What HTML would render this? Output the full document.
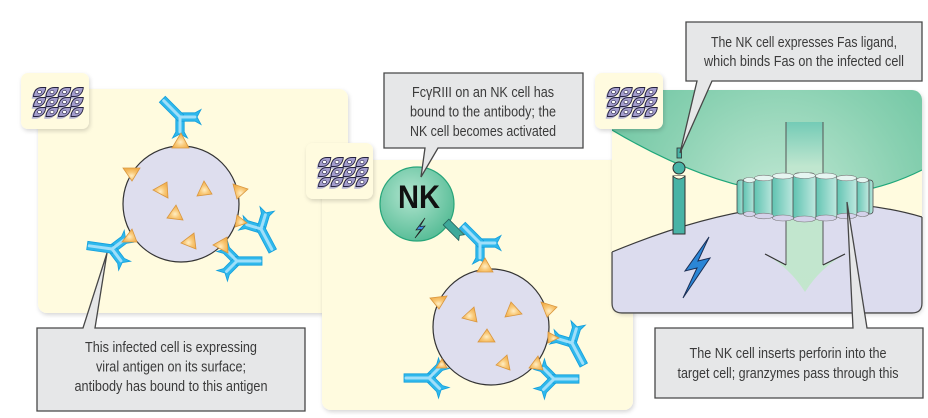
<!DOCTYPE html>
<html><head><meta charset="utf-8"><style>
html,body{margin:0;padding:0;background:#fff;}
svg{display:block;}
text{font-family:"Liberation Sans Narrow","Liberation Sans",sans-serif;}
</style></head><body>
<svg width="928" height="418" viewBox="0 0 928 418" xmlns="http://www.w3.org/2000/svg">
<defs>
 <filter id="sh" x="-5%" y="-5%" width="112%" height="115%"><feDropShadow dx="1" dy="2" stdDeviation="2" flood-color="#000" flood-opacity="0.16"/></filter>
 <radialGradient id="tri" cx="0.5" cy="0.6" r="0.55"><stop offset="0" stop-color="#ffeec4"/><stop offset="0.5" stop-color="#f9c978"/><stop offset="1" stop-color="#f2b150"/></radialGradient>
 <radialGradient id="nk" cx="0.42" cy="0.38" r="0.65"><stop offset="0" stop-color="#b2e5cf"/><stop offset="1" stop-color="#56bc96"/></radialGradient>
 <radialGradient id="grn" cx="780" cy="205" r="230" gradientUnits="userSpaceOnUse"><stop offset="0" stop-color="#c2e8d4"/><stop offset="0.55" stop-color="#8ad1b2"/><stop offset="1" stop-color="#62c09b"/></radialGradient>
 <linearGradient id="seg" x1="0" y1="0" x2="1" y2="0"><stop offset="0" stop-color="#5fc3b1"/><stop offset="1" stop-color="#bfe8df"/></linearGradient>
 <linearGradient id="shaft" x1="0" y1="122" x2="0" y2="300" gradientUnits="userSpaceOnUse"><stop offset="0" stop-color="#74cbb6"/><stop offset="0.25" stop-color="#c0e6cf"/><stop offset="1" stop-color="#c3e6cd"/></linearGradient>
 <g id="ab">
  <polygon transform="rotate(45)" points="-2,-4.2 15,-4.2 21,-7.5 17,0 21,7.5 15,4.2 -2,4.2" fill="#2fb8ec" stroke="#139fdc" stroke-width="0.8"/>
  <polygon transform="rotate(-45)" points="-2,-4.2 15,-4.2 21,-7.5 17,0 21,7.5 15,4.2 -2,4.2" fill="#2fb8ec" stroke="#139fdc" stroke-width="0.8"/>
  <rect x="-25" y="-4.2" width="26" height="8.4" fill="#2fb8ec" stroke="#139fdc" stroke-width="0.8"/>
  <line x1="-23" y1="0" x2="0" y2="0" stroke="#9fdffa" stroke-width="3" stroke-linecap="round"/>
  <line x1="0" y1="0" x2="10.5" y2="10.5" stroke="#9fdffa" stroke-width="3" stroke-linecap="round"/>
  <line x1="0" y1="0" x2="10.5" y2="-10.5" stroke="#9fdffa" stroke-width="3" stroke-linecap="round"/>
 </g>
 <g id="leaf">
  <path d="M0.5,9.5 C1,3 4,0.5 9,0.5 L12.8,0.5 C12.3,6 9,9.5 4,9.5 Z" fill="#a39dcd" stroke="#24213e" stroke-width="0.9"/>
  <ellipse cx="6.5" cy="5" rx="2" ry="1.5" fill="#fff" stroke="#24213e" stroke-width="0.6"/>
 </g>
 <g id="leafs">
  <path d="M0.5,9.5 C1,3 4,0.5 9,0.5 L12.8,0.5 C12.3,6 9,9.5 4,9.5 Z" fill="#8486c8"/>
 </g>
 <g id="tis">
  <g opacity="0.6" transform="translate(-1.8,2.2)">
   <use href="#leafs" x="2" y="1"/><use href="#leafs" x="14.5" y="1"/><use href="#leafs" x="27" y="1"/><use href="#leafs" x="39.5" y="1"/>
   <use href="#leafs" x="2" y="11"/><use href="#leafs" x="14.5" y="11"/><use href="#leafs" x="27" y="11"/><use href="#leafs" x="39.5" y="11"/>
   <use href="#leafs" x="2" y="21"/><use href="#leafs" x="14.5" y="21"/><use href="#leafs" x="27" y="21"/><use href="#leafs" x="39.5" y="21"/>
  </g>
  <use href="#leaf" x="2" y="1"/><use href="#leaf" x="14.5" y="1"/><use href="#leaf" x="27" y="1"/><use href="#leaf" x="39.5" y="1"/>
  <use href="#leaf" x="2" y="11"/><use href="#leaf" x="14.5" y="11"/><use href="#leaf" x="27" y="11"/><use href="#leaf" x="39.5" y="11"/>
  <use href="#leaf" x="2" y="21"/><use href="#leaf" x="14.5" y="21"/><use href="#leaf" x="27" y="21"/><use href="#leaf" x="39.5" y="21"/>
 </g>
 <clipPath id="p3"><rect x="612" y="90" width="310" height="223" rx="10"/></clipPath>
</defs>

<!-- Panels -->
<rect x="38" y="89" width="310" height="224" rx="9" fill="#fffbdf" filter="url(#sh)"/>
<rect x="322" y="160" width="311" height="250" rx="9" fill="#fffbdf" filter="url(#sh)"/>
<rect x="612" y="90" width="310" height="223" rx="10" fill="#fffbdf" filter="url(#sh)"/>

<!-- Panel 3 content -->
<g clip-path="url(#p3)">
 <path d="M612,90 L922,90 L922,170 Q790,236 612,130 Z" fill="url(#grn)"/>
 <path d="M922,170 Q790,236 612,130" fill="none" stroke="#1fa77a" stroke-width="1.2"/>
 <path d="M612,252 Q790,178 922,217 L922,313 L612,313 Z" fill="#dcdcee" stroke="#3a3a3a" stroke-width="1.2"/>
</g>
<path d="M612,252 L612,303 Q612,313 622,313 L912,313 Q922,313 922,303 L922,217" fill="none" stroke="#4a4a4a" stroke-width="1.2"/>

<!-- arrow -->
<path d="M786,122 L823,122 L823,265 L845,254 Q820,268 805,292 Q790,268 765,254 L786,265 Z" fill="url(#shaft)"/>
<line x1="786" y1="122" x2="786" y2="265" stroke="#555" stroke-width="1"/>
<line x1="823" y1="122" x2="823" y2="265" stroke="#555" stroke-width="1"/>
<line x1="765" y1="254" x2="786" y2="265" stroke="#333" stroke-width="1.2"/>
<line x1="845" y1="254" x2="823" y2="265" stroke="#333" stroke-width="1.2"/>

<!-- pore -->
<g stroke="#4a4a4a" stroke-width="0.8">
 <rect x="737" y="180" width="8" height="34" rx="3" fill="url(#seg)"/>
 <rect x="866" y="180" width="7" height="34" rx="3" fill="url(#seg)"/>
 <rect x="743" y="178" width="13" height="38" rx="4" fill="url(#seg)"/>
 <rect x="856" y="178" width="13" height="38" rx="4" fill="url(#seg)"/>
 <rect x="754" y="176" width="20" height="42" rx="5" fill="url(#seg)"/>
 <rect x="836" y="176" width="21" height="42" rx="5" fill="url(#seg)"/>
 <rect x="772" y="174" width="22" height="46" rx="5" fill="url(#seg)"/>
 <rect x="815" y="174" width="22" height="46" rx="5" fill="url(#seg)"/>
 <rect x="793" y="173" width="23" height="48" rx="5" fill="url(#seg)"/>
</g>
<g stroke="#777" stroke-width="0.6" fill="#e6f5f1">
 <ellipse cx="749.5" cy="180" rx="6" ry="2.5"/>
 <ellipse cx="862.5" cy="180" rx="6" ry="2.5"/>
 <ellipse cx="764" cy="178" rx="9.5" ry="2.8"/>
 <ellipse cx="846.5" cy="178" rx="10" ry="2.8"/>
 <ellipse cx="783" cy="176" rx="10.5" ry="3"/>
 <ellipse cx="826" cy="176" rx="10.5" ry="3"/>
 <ellipse cx="804.5" cy="175.5" rx="11" ry="3"/>
</g>
<g stroke="#777" stroke-width="0.6" fill="#d4d2ea">
 <ellipse cx="749.5" cy="214" rx="6" ry="2.5"/>
 <ellipse cx="862.5" cy="214" rx="6" ry="2.5"/>
 <ellipse cx="764" cy="216" rx="9.5" ry="2.8"/>
 <ellipse cx="846.5" cy="216" rx="10" ry="2.8"/>
 <ellipse cx="783" cy="218" rx="10.5" ry="3"/>
 <ellipse cx="826" cy="218" rx="10.5" ry="3"/>
 <ellipse cx="804.5" cy="219" rx="11" ry="3"/>
</g>

<!-- Fas ligand / Fas -->
<rect x="673" y="176" width="12" height="58" fill="#48b3a6" stroke="#2f2f2f" stroke-width="1"/>
<path d="M673,176 Q679,182 685,176" fill="#fffbdf" stroke="#2f2f2f" stroke-width="0.8"/>
<circle cx="679" cy="168" r="6" fill="#48b3a6" stroke="#2f2f2f" stroke-width="1"/>
<rect x="677" y="148" width="4.5" height="10" fill="#48b3a6" stroke="#2f2f2f" stroke-width="0.8"/>

<!-- lightning panel 3 -->
<path d="M709,237 L685,271 L697,268 L683,298 L710,258 L698,261 Z" fill="#2b86d6" stroke="#1b2f55" stroke-width="1"/>

<!-- Cell 1 -->
<circle cx="181" cy="204" r="58" fill="#dedeee" stroke="#333" stroke-width="1.2"/>
<use href="#ab" transform="translate(180,117) rotate(45)"/>
<use href="#ab" transform="translate(261,229) rotate(242) scale(1,-1)"/>
<use href="#ab" transform="translate(237,261) rotate(180)"/>
<use href="#ab" transform="translate(112,249) rotate(8) scale(1,-1)"/>
<g fill="url(#tri)" stroke="#d9963e" stroke-width="0.8">
 <polygon points="181,133 172,148 189,148"/>
 <polygon points="123,168 140,168 132,181"/>
 <polygon points="233,184 248,189 237,199"/>
 <polygon points="237,215 247,223 235,227"/>
 <polygon points="213,245 227,237 228,253"/>
 <polygon points="122,242 132,229 137,242"/>
 <polygon points="153,190 167,182 168,198"/>
 <polygon points="197,196 204,181 212,194"/>
 <polygon points="167,218 176,205 183,220"/>
 <polygon points="181,243 194,233 196,249"/>
</g>

<!-- Cell 2 -->
<circle cx="491" cy="327" r="58" fill="#dedeee" stroke="#333" stroke-width="1.2"/>
<use href="#ab" transform="translate(480,243) rotate(45)"/>
<use href="#ab" transform="translate(572,343) rotate(242) scale(1,-1)"/>
<use href="#ab" transform="translate(554,379) rotate(180)"/>
<use href="#ab" transform="translate(429,378) scale(1,-1)"/>
<g fill="url(#tri)" stroke="#d9963e" stroke-width="0.8">
 <polygon points="477,272 485,258 493,272"/>
 <polygon points="430,298 447,296 439,309"/>
 <polygon points="541,302 557,307 547,317"/>
 <polygon points="548,332 559,338 548,343"/>
 <polygon points="529,368 538,356 543,370"/>
 <polygon points="436,368 442,359 447,368"/>
 <polygon points="462,318 474,307 477,322"/>
 <polygon points="505,317 511,302 522,314"/>
 <polygon points="478,342 487,329 495,342"/>
 <polygon points="496,365 507,355 510,370"/>
</g>

<!-- NK cell -->
<circle cx="417" cy="204" r="37" fill="url(#nk)" stroke="#27a57a" stroke-width="1.2"/>
<polygon transform="translate(446,222) rotate(45)" points="0,-4 22,-4 19,0 22,4 0,4" fill="#3ea99a" stroke="#22605a" stroke-width="0.8"/>
<text x="419" y="208" font-family="Liberation Sans, sans-serif" font-weight="bold" font-size="32" fill="#111" text-anchor="middle" textLength="42" lengthAdjust="spacingAndGlyphs">NK</text>
<path d="M425,218 L416,230 L421,229.5 L415,238 L425,226 L420,226.5 Z" fill="#3b8fe0" stroke="#222" stroke-width="0.7"/>

<!-- icon boxes -->
<rect x="21" y="73" width="68" height="56" rx="7" fill="#fffbdf" filter="url(#sh)"/>
<rect x="306" y="143" width="67" height="56" rx="7" fill="#fffbdf" filter="url(#sh)"/>
<rect x="595" y="73" width="68" height="56" rx="7" fill="#fffbdf" filter="url(#sh)"/>
<use href="#tis" transform="translate(31,86)"/>
<use href="#tis" transform="translate(316,156)"/>
<use href="#tis" transform="translate(605,86)"/>

<!-- Callouts -->
<g fill="#e6e7e8" stroke="#474747" stroke-width="1.3" stroke-linejoin="miter">
 <path d="M37,328 L83,328 L107,253 L95,328 L305,328 L305,411 L37,411 Z"/>
 <path d="M384,73 L583,73 L583,148 L438,148 L421,177 L425,148 L384,148 Z"/>
 <path d="M686,22 L922,22 L922,81 L712,81 L680,153 L697,81 L686,81 Z"/>
 <path d="M655,328 L853,328 L847,202 L867,328 L923,328 L923,398 L655,398 Z"/>
</g>
<g fill="#3a3a3a" font-size="14.5" text-anchor="middle">
 <text x="171" y="352" textLength="172" lengthAdjust="spacingAndGlyphs">This infected cell is expressing</text>
 <text x="171" y="371.5" textLength="150" lengthAdjust="spacingAndGlyphs">viral antigen on its surface;</text>
 <text x="171" y="391" textLength="193" lengthAdjust="spacingAndGlyphs">antibody has bound to this antigen</text>

 <text x="483" y="97" textLength="142" lengthAdjust="spacingAndGlyphs">FcγRIII on an NK cell has</text>
 <text x="483" y="116.5" textLength="146" lengthAdjust="spacingAndGlyphs">bound to the antibody; the</text>
 <text x="483" y="136" textLength="146" lengthAdjust="spacingAndGlyphs">NK cell becomes activated</text>

 <text x="804" y="47" textLength="186" lengthAdjust="spacingAndGlyphs">The NK cell expresses Fas ligand,</text>
 <text x="804" y="66" textLength="200" lengthAdjust="spacingAndGlyphs">which binds Fas on the infected cell</text>

 <text x="788" y="358" textLength="197" lengthAdjust="spacingAndGlyphs">The NK cell inserts perforin into the</text>
 <text x="788" y="378" textLength="221" lengthAdjust="spacingAndGlyphs">target cell; granzymes pass through this</text>
</g>
</svg>
</body></html>
